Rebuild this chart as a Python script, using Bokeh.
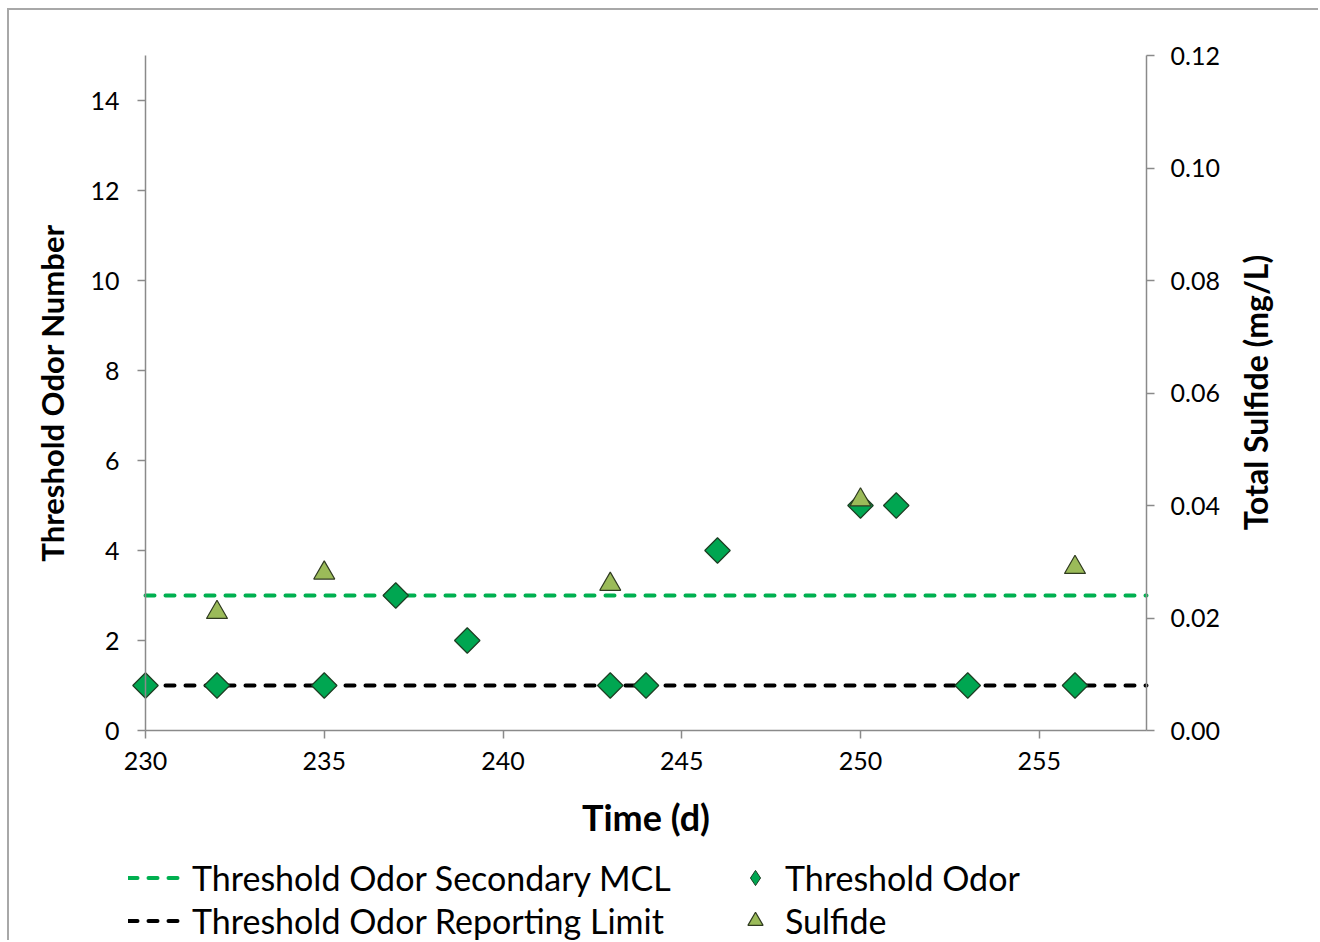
import math
from bokeh.plotting import figure
from bokeh.models import (Range1d, LinearAxis, FixedTicker, PrintfTickFormatter,
                          Legend, LegendItem, Label)
from bokeh.embed import file_html
from bokeh.resources import INLINE

# ---------------- data ----------------
odor_days = [230, 232, 235, 237, 239, 243, 244, 246, 250, 251, 253, 256]
odor_ton = [1, 1, 1, 3, 2, 1, 1, 4, 5, 5, 1, 1]
sulfide_days = [232, 235, 243, 250, 256]
sulfide_mgl = [0.021, 0.028, 0.026, 0.041, 0.029]
mcl_ton = 3
reporting_limit_ton = 1
x_bounds = (230, 258)
ton_bounds = (0, 15)
sulfide_bounds = (0.0, 0.12)
x_ticks = [230, 235, 240, 245, 250, 255]
left_ticks = [0, 2, 4, 6, 8, 10, 12, 14]
right_ticks = [0.0, 0.02, 0.04, 0.06, 0.08, 0.10, 0.12]

FONT = "Lato"
AXIS_COLOR = "#8a8a8a"
ODOR_FILL, ODOR_LINE = "#00A651", "#1d3d22"
SULF_FILL, SULF_LINE = "#9BBB59", "#2f3a20"

# ---------------- layout (pixels) ----------------
W, H = 1311, 932                 # canvas size
AX_L, AX_R = 136, 1137           # x pixel of 230 and 258 inside the canvas
AX_T, AX_B = 45, 720             # y pixel of 15 and 0 inside the canvas
px_per_day = (AX_R - AX_L) / (x_bounds[1] - x_bounds[0])
px_per_ton = (AX_B - AX_T) / (ton_bounds[1] - ton_bounds[0])
x0 = x_bounds[0] - AX_L / px_per_day
x1 = x_bounds[1] + (W - AX_R) / px_per_day
y0 = ton_bounds[0] - (H - AX_B) / px_per_ton
y1 = ton_bounds[1] + AX_T / px_per_ton
ratio = sulfide_bounds[1] / ton_bounds[1]

p = figure(width=W, height=H, output_backend="svg", toolbar_location=None,
           x_range=Range1d(x0, x1), y_range=Range1d(y0, y1),
           min_border=0, margin=(8, 0, 0, 7),
           styles={"border-top": "2px solid #a8a8a8", "border-left": "2px solid #a8a8a8"})
p.extra_y_ranges = {"sulfide": Range1d(y0 * ratio, y1 * ratio)}
p.outline_line_color = None
p.xgrid.visible = False
p.ygrid.visible = False
p.background_fill_color = "white"
p.border_fill_color = "white"

def style_axis(ax, tick_size="25px"):
    ax.axis_line_color = AXIS_COLOR
    ax.axis_line_width = 1.5
    ax.major_tick_line_color = AXIS_COLOR
    ax.major_tick_line_width = 1.5
    ax.major_tick_in = 0
    ax.major_tick_out = 8
    ax.minor_tick_line_color = None
    ax.major_label_text_font = FONT
    ax.major_label_text_font_size = tick_size
    ax.major_label_text_color = "black"
    ax.axis_label_text_font = FONT
    ax.axis_label_text_font_style = "bold"
    ax.axis_label_text_color = "black"

# bottom axis
xa = p.xaxis[0]
xa.ticker = FixedTicker(ticks=x_ticks)
xa.fixed_location = ton_bounds[0]
xa.bounds = x_bounds
style_axis(xa)
xa.major_label_standoff = 13
xa.axis_label = "Time (d)"
xa.axis_label_text_font_size = "36px"
xa.axis_label_standoff = 22

# left axis
ya = p.yaxis[0]
ya.ticker = FixedTicker(ticks=left_ticks)
ya.fixed_location = x_bounds[0]
ya.bounds = ton_bounds
style_axis(ya)
ya.major_label_standoff = 18
ya.axis_label = "Threshold Odor Number"
ya.axis_label_text_font_size = "31px"
ya.axis_label_standoff = 16

# right axis
ra = LinearAxis(y_range_name="sulfide", ticker=FixedTicker(ticks=right_ticks),
                formatter=PrintfTickFormatter(format="%.2f"),
                fixed_location=x_bounds[1], bounds=sulfide_bounds)
style_axis(ra)
ra.major_label_standoff = 16
p.add_layout(ra, "right")

# right axis title (reads bottom-to-top, centred on the axis)
p.add_layout(Label(x=1246, y=H - (AX_T + AX_B) / 2 + 0.5, x_units="screen", y_units="screen",
                   text="Total Sulfide (mg/L)", angle=math.pi / 2,
                   text_align="center", text_baseline="middle",
                   text_font=FONT, text_font_style="bold", text_font_size="32px",
                   text_color="black"))

# reference lines
mcl = p.line(x=list(x_bounds), y=[mcl_ton, mcl_ton], line_color="#00B050",
             line_width=4, line_dash="9 11", line_cap="round")
rl = p.line(x=list(x_bounds), y=[reporting_limit_ton, reporting_limit_ton],
            line_color="black", line_width=4, line_dash="9 11", line_cap="round")

# markers
od = p.scatter(x=odor_days, y=odor_ton, marker="square", angle=math.pi / 4,
               size=18, fill_color=ODOR_FILL, line_color=ODOR_LINE, line_width=1.2)
sf = p.scatter(x=sulfide_days, y=sulfide_mgl, y_range_name="sulfide",
               marker="triangle", size=21, fill_color=SULF_FILL,
               line_color=SULF_LINE, line_width=1.2)
# legend-only glyph for the diamond (the legend draws markers unrotated)
od_key = p.scatter(x=odor_days, y=odor_ton, marker="diamond", size=18,
                   fill_color=ODOR_FILL, line_color=ODOR_LINE, line_width=1.0,
                   visible=False)

def make_legend(items, x, y, glyph_w, standoff):
    return Legend(items=items, location=(x, y), orientation="vertical",
                  glyph_width=glyph_w, glyph_height=43, label_height=43,
                  spacing=0, padding=0, margin=0, label_standoff=standoff,
                  label_text_font=FONT, label_text_font_size="34px",
                  label_text_color="black", border_line_color=None,
                  background_fill_alpha=0)

lg1 = make_legend([LegendItem(label="Threshold Odor Secondary MCL", renderers=[mcl]),
                   LegendItem(label="Threshold Odor Reporting Limit", renderers=[rl])],
                  119, 0, 60, 4)
lg2 = make_legend([LegendItem(label="Threshold Odor", renderers=[od_key]),
                   LegendItem(label="Sulfide", renderers=[sf])],
                  727, 0, 38, 11)
p.add_layout(lg1, "center")
p.add_layout(lg2, "center")

open("out.html", "w").write(file_html(p, INLINE))
